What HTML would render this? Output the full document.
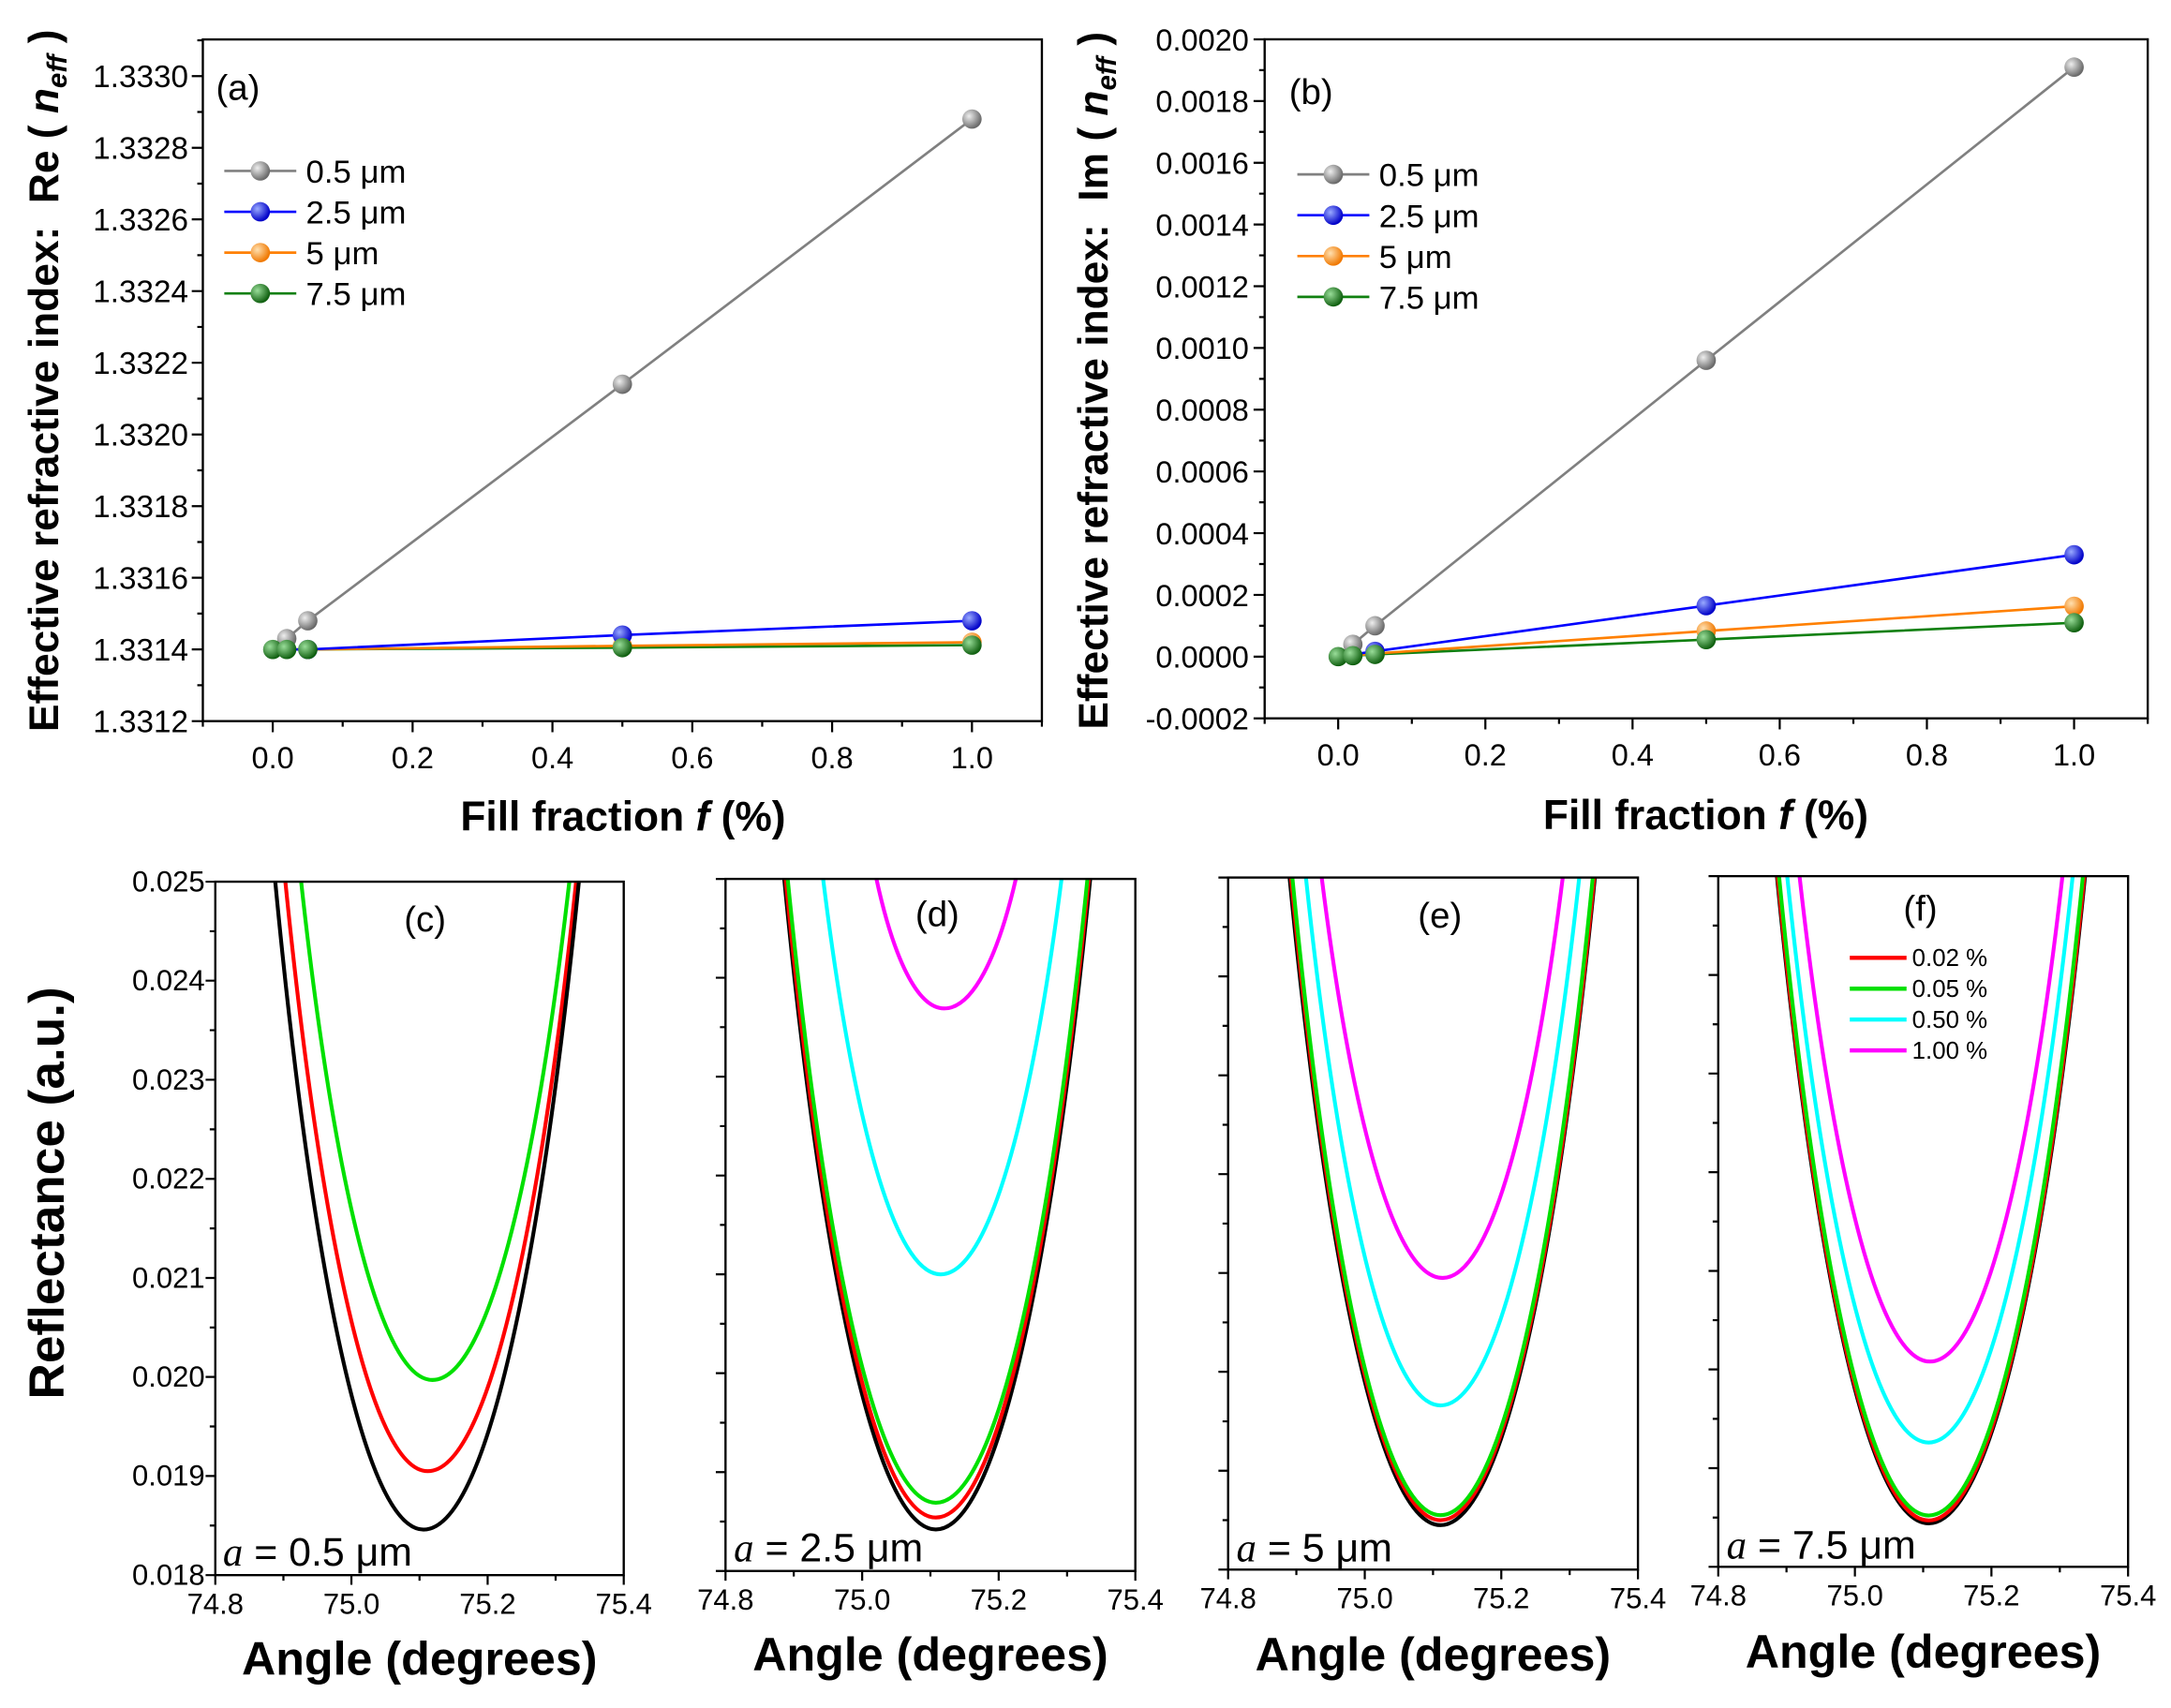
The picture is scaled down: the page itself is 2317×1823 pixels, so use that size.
<!DOCTYPE html>
<html><head><meta charset="utf-8"><style>
html,body{margin:0;padding:0;background:#fff}
svg{display:block}
text{font-family:"Liberation Sans",Arial,sans-serif;fill:#000}
</style></head><body>
<svg width="2317" height="1823" viewBox="0 0 1568 1234" preserveAspectRatio="none" xmlns="http://www.w3.org/2000/svg">
<defs>
<radialGradient id="gG" cx="35%" cy="35%" r="65%"><stop offset="0" stop-color="#eee"/><stop offset="1" stop-color="#6a6a6a"/></radialGradient>
<radialGradient id="gB" cx="35%" cy="35%" r="65%"><stop offset="0" stop-color="#9af"/><stop offset="1" stop-color="#0000c8"/></radialGradient>
<radialGradient id="gO" cx="35%" cy="35%" r="65%"><stop offset="0" stop-color="#ffe0b0"/><stop offset="1" stop-color="#f07800"/></radialGradient>
<radialGradient id="gE" cx="35%" cy="35%" r="65%"><stop offset="0" stop-color="#9d9"/><stop offset="1" stop-color="#106010"/></radialGradient>
</defs>

<!-- ===== Panel (a) ===== -->
<rect x="146.5" y="28.5" width="606" height="492.5" fill="none" stroke="#000" stroke-width="1.6"/>
<path stroke="#000" stroke-width="1.5" fill="none" d="M146.5 521h-8M146.5 469.2h-8M146.5 417.4h-8M146.5 365.7h-8M146.5 313.9h-8M146.5 262.1h-8M146.5 210.3h-8M146.5 158.5h-8M146.5 106.8h-8M146.5 55h-8
M146.5 495.1h-4M146.5 443.3h-4M146.5 391.6h-4M146.5 339.8h-4M146.5 288h-4M146.5 236.2h-4M146.5 184.4h-4M146.5 132.7h-4M146.5 80.9h-4M146.5 29.1h-4
M197 521v8M298 521v8M399 521v8M500 521v8M601 521v8M702 521v8
M146.5 521v4M247.5 521v4M348.5 521v4M449.5 521v4M550.5 521v4M651.5 521v4M752.5 521v4"/>
<g font-size="22.5" text-anchor="end">
<text x="136" y="529">1.3312</text><text x="136" y="477.2">1.3314</text><text x="136" y="425.4">1.3316</text><text x="136" y="373.7">1.3318</text><text x="136" y="321.9">1.3320</text><text x="136" y="270.1">1.3322</text><text x="136" y="218.3">1.3324</text><text x="136" y="166.5">1.3326</text><text x="136" y="114.8">1.3328</text><text x="136" y="63">1.3330</text>
</g>
<g font-size="22" text-anchor="middle">
<text x="197" y="555">0.0</text><text x="298" y="555">0.2</text><text x="399" y="555">0.4</text><text x="500" y="555">0.6</text><text x="601" y="555">0.8</text><text x="702" y="555">1.0</text>
</g>
<g fill="none" stroke-width="1.8">
<polyline stroke="#108010" points="197,469.2 207.1,469.2 222.3,469.2 449.5,467.9 702,466.1"/>
<polyline stroke="#ff8000" points="197,469.2 207.1,469.2 222.3,469.2 449.5,466.6 702,464"/>
<polyline stroke="#0000ff" points="197,469.2 207.1,469.2 222.3,469.2 449.5,458.8 702,448.5"/>
<polyline stroke="#808080" points="197,469.2 207.1,461.4 222.3,448.5 449.5,277.6 702,86"/>
</g>
<g fill="url(#gO)"><circle cx="449.5" cy="466.6" r="7"/><circle cx="702" cy="464" r="7"/></g>
<g fill="url(#gB)"><circle cx="222.3" cy="469.2" r="7"/><circle cx="449.5" cy="458.8" r="7"/><circle cx="702" cy="448.5" r="7"/></g>
<g fill="url(#gG)"><circle cx="207.1" cy="461.4" r="7"/><circle cx="222.3" cy="448.5" r="7"/><circle cx="449.5" cy="277.6" r="7"/><circle cx="702" cy="86" r="7"/></g>
<g fill="url(#gE)"><circle cx="197" cy="469.2" r="7"/><circle cx="207.1" cy="469.2" r="7"/><circle cx="222.3" cy="469.2" r="7"/><circle cx="449.5" cy="467.9" r="7"/><circle cx="702" cy="466.1" r="7"/></g>
<g stroke-width="1.8"><line x1="162" y1="123.5" x2="214" y2="123.5" stroke="#808080"/><line x1="162" y1="153" x2="214" y2="153" stroke="#0000ff"/><line x1="162" y1="182.5" x2="214" y2="182.5" stroke="#ff8000"/><line x1="162" y1="212" x2="214" y2="212" stroke="#108010"/></g>
<circle cx="188" cy="123.5" r="7" fill="url(#gG)"/><circle cx="188" cy="153" r="7" fill="url(#gB)"/><circle cx="188" cy="182.5" r="7" fill="url(#gO)"/><circle cx="188" cy="212" r="7" fill="url(#gE)"/>
<g font-size="23.5"><text x="221" y="132">0.5 μm</text><text x="221" y="161.5">2.5 μm</text><text x="221" y="191">5 μm</text><text x="221" y="220.5">7.5 μm</text></g>
<text x="156" y="72" font-size="26">(a)</text>

<!-- ===== Panel (b) ===== -->
<rect x="913.4" y="28.4" width="637.8" height="490.6" fill="none" stroke="#000" stroke-width="1.6"/>
<path stroke="#000" stroke-width="1.5" fill="none" d="M913.4 519h-8M913.4 474.4h-8M913.4 429.8h-8M913.4 385.2h-8M913.4 340.6h-8M913.4 296h-8M913.4 251.4h-8M913.4 206.8h-8M913.4 162.2h-8M913.4 117.6h-8M913.4 73h-8M913.4 28.4h-8
M913.4 496.7h-4M913.4 452.1h-4M913.4 407.5h-4M913.4 362.9h-4M913.4 318.3h-4M913.4 273.7h-4M913.4 229.1h-4M913.4 184.5h-4M913.4 139.9h-4M913.4 95.3h-4M913.4 50.7h-4
M966.5 519v8M1072.8 519v8M1179.1 519v8M1285.4 519v8M1391.7 519v8M1498 519v8
M913.4 519v4M1019.7 519v4M1126 519v4M1232.3 519v4M1338.6 519v4M1444.9 519v4M1551.2 519v4"/>
<g font-size="22" text-anchor="end">
<text x="902" y="527">-0.0002</text><text x="902" y="482.4">0.0000</text><text x="902" y="437.8">0.0002</text><text x="902" y="393.2">0.0004</text><text x="902" y="348.6">0.0006</text><text x="902" y="304">0.0008</text><text x="902" y="259.4">0.0010</text><text x="902" y="214.8">0.0012</text><text x="902" y="170.2">0.0014</text><text x="902" y="125.6">0.0016</text><text x="902" y="81">0.0018</text><text x="902" y="36.4">0.0020</text>
</g>
<g font-size="22" text-anchor="middle">
<text x="966.5" y="553">0.0</text><text x="1072.8" y="553">0.2</text><text x="1179.1" y="553">0.4</text><text x="1285.4" y="553">0.6</text><text x="1391.7" y="553">0.8</text><text x="1498" y="553">1.0</text>
</g>
<g fill="none" stroke-width="1.8">
<polyline stroke="#108010" points="966.5,474.4 977.1,473.7 993.1,472.8 1232.3,462.1 1498,449.9"/>
<polyline stroke="#ff8000" points="966.5,474.4 977.1,473.5 993.1,472.2 1232.3,455.9 1498,438"/>
<polyline stroke="#0000ff" points="966.5,474.4 977.1,472.8 993.1,470.6 1232.3,437.6 1498,400.8"/>
<polyline stroke="#808080" points="966.5,474.4 977.1,465.5 993.1,452.1 1232.3,260.3 1498,48.5"/>
</g>
<g fill="url(#gG)"><circle cx="977.1" cy="465.5" r="7"/><circle cx="993.1" cy="452.1" r="7"/><circle cx="1232.3" cy="260.3" r="7"/><circle cx="1498" cy="48.5" r="7"/></g>
<g fill="url(#gB)"><circle cx="993.1" cy="470.6" r="7"/><circle cx="1232.3" cy="437.6" r="7"/><circle cx="1498" cy="400.8" r="7"/></g>
<g fill="url(#gO)"><circle cx="1232.3" cy="455.9" r="7"/><circle cx="1498" cy="438" r="7"/></g>
<g fill="url(#gE)"><circle cx="966.5" cy="474.4" r="7"/><circle cx="977.1" cy="473.7" r="7"/><circle cx="993.1" cy="472.8" r="7"/><circle cx="1232.3" cy="462.1" r="7"/><circle cx="1498" cy="449.9" r="7"/></g>
<g stroke-width="1.8"><line x1="937" y1="126" x2="989" y2="126" stroke="#808080"/><line x1="937" y1="155.5" x2="989" y2="155.5" stroke="#0000ff"/><line x1="937" y1="185" x2="989" y2="185" stroke="#ff8000"/><line x1="937" y1="214.5" x2="989" y2="214.5" stroke="#108010"/></g>
<circle cx="963" cy="126" r="7" fill="url(#gG)"/><circle cx="963" cy="155.5" r="7" fill="url(#gB)"/><circle cx="963" cy="185" r="7" fill="url(#gO)"/><circle cx="963" cy="214.5" r="7" fill="url(#gE)"/>
<g font-size="23.5"><text x="996" y="134.5">0.5 μm</text><text x="996" y="164">2.5 μm</text><text x="996" y="193.5">5 μm</text><text x="996" y="223">7.5 μm</text></g>
<text x="931" y="75" font-size="26">(b)</text>

<!-- axis titles top -->
<text transform="translate(42,275) rotate(-90)" font-size="30" font-weight="bold" text-anchor="middle">Effective refractive index:&#160; Re ( <tspan font-style="italic">n</tspan><tspan font-style="italic" font-size="20" dy="6">eff</tspan><tspan dy="-6"> )</tspan></text>
<text x="0" y="0" transform="translate(800,275) rotate(-90)" font-size="30" font-weight="bold" text-anchor="middle">Effective refractive index:&#160; Im ( <tspan font-style="italic">n</tspan><tspan font-style="italic" font-size="20" dy="6">eff</tspan><tspan dy="-6"> )</tspan></text>
<text x="450" y="600" font-size="30" font-weight="bold" text-anchor="middle">Fill fraction <tspan font-style="italic">f</tspan> (%)</text>
<text x="1232" y="599" font-size="30" font-weight="bold" text-anchor="middle">Fill fraction <tspan font-style="italic">f</tspan> (%)</text>

<!-- ===== Panel (c) ===== -->
<g fill="none" stroke-width="2.8">
<path stroke="#00e000" d="M217.5 637C241.2 853 274.4 997 312.3 997C351.9 997 386.5 853 411.2 637"/>
<path stroke="#ff0000" d="M206.1 637C231.8 892.5 267.8 1062.9 308.9 1062.9C351.8 1062.9 389.3 892.5 416.1 637"/>
<path stroke="#000" d="M198.8 637C225.6 917.9 263.1 1105.1 305.9 1105.1C350.8 1105.1 390.1 917.9 418.1 637"/>
</g>
<rect x="155.5" y="637" width="295" height="501" fill="none" stroke="#000" stroke-width="1.6"/>
<path stroke="#000" stroke-width="1.5" fill="none" d="M155.5 1138h-7M155.5 1066.4h-7M155.5 994.8h-7M155.5 923.3h-7M155.5 851.7h-7M155.5 780.1h-7M155.5 708.5h-7M155.5 637h-7
M155.5 1102.2h-4M155.5 1030.6h-4M155.5 959.1h-4M155.5 887.5h-4M155.5 815.9h-4M155.5 744.3h-4M155.5 672.8h-4
M155.5 1138v7M253.8 1138v7M352.2 1138v7M450.5 1138v7M204.7 1138v4M303 1138v4M401.3 1138v4"/>
<g font-size="21" text-anchor="end">
<text x="148" y="1145">0.018</text><text x="148" y="1073.4">0.019</text><text x="148" y="1001.8">0.020</text><text x="148" y="930.3">0.021</text><text x="148" y="858.7">0.022</text><text x="148" y="787.1">0.023</text><text x="148" y="715.5">0.024</text><text x="148" y="644">0.025</text>
</g>
<g font-size="21" text-anchor="middle"><text x="155.5" y="1166">74.8</text><text x="253.8" y="1166">75.0</text><text x="352.2" y="1166">75.2</text><text x="450.5" y="1166">75.4</text></g>
<text x="303" y="1210" font-size="34" font-weight="bold" text-anchor="middle">Angle (degrees)</text>
<text x="307" y="673" font-size="26" text-anchor="middle">(c)</text>
<text x="161" y="1131" font-size="29"><tspan font-family="Liberation Serif,serif" font-style="italic">a</tspan> = 0.5 μm</text>

<!-- ===== Panel (d) ===== -->
<g fill="none" stroke-width="2.8">
<path stroke="#ff00ff" d="M633 635C645.2 691.2 662.3 728.6 681.9 728.6C702.6 728.6 720.7 691.2 733.7 635"/>
<path stroke="#00ffff" d="M594.5 635C615.7 806.4 645.4 920.7 679.4 920.7C714.3 920.7 744.9 806.4 766.7 635"/>
<path stroke="#000" d="M566.4 635C593.8 917 632.1 1105 675.9 1105C720.5 1105 759.5 917 787.4 635"/>
<path stroke="#ff0000" d="M567.4 635C594.5 911.8 632.5 1096.4 675.9 1096.4C720.1 1096.4 758.8 911.8 786.4 635"/>
<path stroke="#00e000" d="M568.9 635C595.7 905.4 633.1 1085.7 675.9 1085.7C719.7 1085.7 758 905.4 785.4 635"/>
</g>
<rect x="524" y="635" width="296" height="500" fill="none" stroke="#000" stroke-width="1.6"/>
<path stroke="#000" stroke-width="1.5" fill="none" d="M524 1135h-7M524 1063.6h-7M524 992.1h-7M524 920.7h-7M524 849.3h-7M524 777.9h-7M524 706.4h-7M524 635h-7
M524 1099.3h-4M524 1027.9h-4M524 956.4h-4M524 885h-4M524 813.6h-4M524 742.1h-4M524 670.7h-4
M524 1135v7M622.7 1135v7M721.3 1135v7M820 1135v7M573.3 1135v4M672 1135v4M770.7 1135v4"/>
<g font-size="21" text-anchor="middle"><text x="524" y="1163">74.8</text><text x="622.7" y="1163">75.0</text><text x="721.3" y="1163">75.2</text><text x="820" y="1163">75.4</text></g>
<text x="672" y="1207" font-size="34" font-weight="bold" text-anchor="middle">Angle (degrees)</text>
<text x="677" y="669" font-size="26" text-anchor="middle">(d)</text>
<text x="530" y="1128" font-size="29"><tspan font-family="Liberation Serif,serif" font-style="italic">a</tspan> = 2.5 μm</text>

<!-- ===== Panel (e) ===== -->
<g fill="none" stroke-width="2.8">
<path stroke="#ff00ff" d="M954.6 634C976.4 807.6 1007 923.3 1041.9 923.3C1076.6 923.3 1107 807.6 1128.7 634"/>
<path stroke="#00ffff" d="M943.2 634C967.5 862.8 1001.5 1015.4 1040.4 1015.4C1080.5 1015.4 1115.6 862.8 1140.6 634"/>
<path stroke="#000" d="M931.4 634C958.7 914.7 996.8 1101.9 1040.4 1101.9C1085 1101.9 1124 914.7 1151.9 634"/>
<path stroke="#ff0000" d="M932.4 634C959.4 912.6 997.2 1098.3 1040.4 1098.3C1084.8 1098.3 1123.7 912.6 1151.4 634"/>
<path stroke="#00e000" d="M933.4 634C960.2 910.4 997.6 1094.7 1040.4 1094.7C1084.4 1094.7 1122.9 910.4 1150.4 634"/>
</g>
<rect x="887" y="634" width="296" height="500" fill="none" stroke="#000" stroke-width="1.6"/>
<path stroke="#000" stroke-width="1.5" fill="none" d="M887 1134h-7M887 1062.6h-7M887 991.1h-7M887 919.7h-7M887 848.3h-7M887 776.9h-7M887 705.4h-7M887 634h-7
M887 1098.3h-4M887 1026.9h-4M887 955.4h-4M887 884h-4M887 812.6h-4M887 741.1h-4M887 669.7h-4
M887 1134v7M985.7 1134v7M1084.3 1134v7M1183 1134v7M936.3 1134v4M1035 1134v4M1133.7 1134v4"/>
<g font-size="21" text-anchor="middle"><text x="887" y="1162">74.8</text><text x="985.7" y="1162">75.0</text><text x="1084.3" y="1162">75.2</text><text x="1183" y="1162">75.4</text></g>
<text x="1035" y="1207" font-size="34" font-weight="bold" text-anchor="middle">Angle (degrees)</text>
<text x="1040" y="670" font-size="26" text-anchor="middle">(e)</text>
<text x="893" y="1128" font-size="29"><tspan font-family="Liberation Serif,serif" font-style="italic">a</tspan> = 5 μm</text>

<!-- ===== Panel (f) ===== -->
<g fill="none" stroke-width="2.8">
<path stroke="#ff00ff" d="M1299.7 633C1323.3 843.4 1356.2 983.7 1393.9 983.7C1432.2 983.7 1465.7 843.4 1489.6 633"/>
<path stroke="#00ffff" d="M1290.8 633C1316.3 878.5 1352.1 1042.2 1392.9 1042.2C1434.5 1042.2 1471 878.5 1497 633"/>
<path stroke="#000" d="M1283.4 633C1310.8 913.6 1349.1 1100.6 1392.9 1100.6C1438.1 1100.6 1477.7 913.6 1505.9 633"/>
<path stroke="#ff0000" d="M1283.9 633C1311.2 912.3 1349.3 1098.5 1392.9 1098.5C1437.9 1098.5 1477.3 912.3 1505.4 633"/>
<path stroke="#00e000" d="M1284.9 633C1311.9 910.1 1349.7 1094.9 1392.9 1094.9C1437.5 1094.9 1476.5 910.1 1504.4 633"/>
</g>
<rect x="1241" y="633" width="296" height="499" fill="none" stroke="#000" stroke-width="1.6"/>
<path stroke="#000" stroke-width="1.5" fill="none" d="M1241 1132h-7M1241 1060.7h-7M1241 989.4h-7M1241 918.2h-7M1241 846.9h-7M1241 775.6h-7M1241 704.4h-7M1241 633h-7
M1241 1096.4h-4M1241 1025.1h-4M1241 953.8h-4M1241 882.5h-4M1241 811.3h-4M1241 740h-4M1241 668.7h-4
M1241 1132v7M1339.7 1132v7M1438.3 1132v7M1537 1132v7M1290.3 1132v4M1389 1132v4M1487.7 1132v4"/>
<g font-size="21" text-anchor="middle"><text x="1241" y="1160">74.8</text><text x="1339.7" y="1160">75.0</text><text x="1438.3" y="1160">75.2</text><text x="1537" y="1160">75.4</text></g>
<text x="1389" y="1205" font-size="34" font-weight="bold" text-anchor="middle">Angle (degrees)</text>
<text x="1387" y="665" font-size="26" text-anchor="middle">(f)</text>
<text x="1247" y="1126" font-size="29"><tspan font-family="Liberation Serif,serif" font-style="italic">a</tspan> = 7.5 μm</text>
<g stroke-width="3"><line x1="1336" y1="692" x2="1377" y2="692" stroke="#ff0000"/><line x1="1336" y1="714.3" x2="1377" y2="714.3" stroke="#00e000"/><line x1="1336" y1="736.6" x2="1377" y2="736.6" stroke="#00ffff"/><line x1="1336" y1="758.9" x2="1377" y2="758.9" stroke="#ff00ff"/></g>
<g font-size="17.5"><text x="1381" y="698">0.02 %</text><text x="1381" y="720.3">0.05 %</text><text x="1381" y="742.6">0.50 %</text><text x="1381" y="764.9">1.00 %</text></g>

<text transform="translate(46,862) rotate(-90)" font-size="36" font-weight="bold" text-anchor="middle">Reflectance (a.u.)</text>
</svg>
</body></html>
